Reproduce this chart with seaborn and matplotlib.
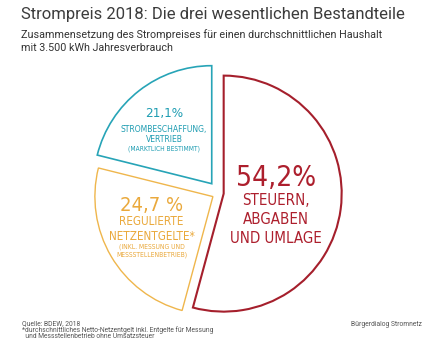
import matplotlib
matplotlib.use("Agg")
import matplotlib.pyplot as plt
from matplotlib import font_manager
import seaborn as sns

# Electricity price 2018: share of the three main components (percent)
shares = [54.2, 24.7, 21.1]
share_labels = ["54,2%", "24,7 %", "21,1%"]
component_lines = [
    ["STEUERN,", "ABGABEN", "UND UMLAGE"],
    ["REGULIERTE", "NETZENTGELTE*"],
    ["STROMBESCHAFFUNG,", "VERTRIEB"],
]
component_notes = [
    [],
    ["(INKL. MESSUNG UND", "MESSSTELLENBETRIEB)"],
    ["(MARKTLICH BESTIMMT)"],
]
edge_colors = ["#a51f2c", "#efb64c", "#27a4b7"]
text_colors = ["#ad1f2d", "#eaa93c", "#1f9db2"]

title = "Strompreis 2018: Die drei wesentlichen Bestandteile"
subtitle = ["Zusammensetzung des Strompreises für einen durchschnittlichen Haushalt",
            "mit 3.500 kWh Jahresverbrauch"]
footnotes = ["Quelle: BDEW, 2018",
             "*durchschnittliches Netto-Netzentgelt inkl. Entgelte für Messung",
             "  und Messstellenbetrieb ohne Umsatzsteuer"]
credit = "Bürgerdialog Stromnetz"

sns.set_theme(style="white")
fonts = font_manager.fontManager.ttflist
names = {f.name for f in fonts}
label_font = dict(family="DejaVu Sans")
if "Liberation Sans Narrow" in names:
    label_font = dict(family="Liberation Sans Narrow")
elif any(f.name == "DejaVu Sans" and f.stretch == "condensed" for f in fonts):
    label_font = dict(family="DejaVu Sans", fontstretch="condensed")
plt.rcParams["font.family"] = ["Roboto", "DejaVu Sans"]

W, H = 439, 340
fig = plt.figure(figsize=(W / 100, H / 100), dpi=100)
fig.patch.set_facecolor("white")
ax = fig.add_axes([0, 0, 1, 1])

# pie in pixel-like units, y pointing up
R = 118
center = (219, H - 193)
explode = [0.04 * R, 0.06 * R, 0.10 * R]
wedges, _ = ax.pie(
    shares, radius=R, center=center, explode=explode,
    startangle=90, counterclock=False,
    colors=["white"] * 3,
    wedgeprops=dict(linewidth=1.2, joinstyle="miter"),
)
for w, ec, lw in zip(wedges, edge_colors, [1.5, 1.0, 1.2]):
    w.set_edgecolor(ec)
    w.set_linewidth(lw)

ax.set_xlim(0, W)
ax.set_ylim(0, H)
ax.set_aspect("equal")
ax.axis("off")

fig.canvas.draw()
renderer = fig.canvas.get_renderer()


def Y(y):
    return H - y


def fitted(x, y, s, width, size=10, **kw):
    t = ax.text(x, Y(y), s, fontsize=size, va="baseline", **kw)
    w = t.get_window_extent(renderer).width
    t.set_fontsize(size * width / w)
    return t


# title block
fitted(21, 18.5, title, 384, color="#3c3c3c", ha="left")
sub = fitted(21, 37.5, subtitle[0], 359, color="#333333", ha="left")
ax.text(21, Y(51), subtitle[1], fontsize=sub.get_fontsize(), va="baseline",
        ha="left", color="#333333")

# segment labels
layout = [
    dict(cx=276, num=(186, 80), lines=[205, 224, 243], fit=(2, 92), notes=[], nfit=None),
    dict(cx=151.5, num=(211, 63), lines=[225, 239.5], fit=(1, 86), notes=[248, 256], nfit=(1, 72)),
    dict(cx=164, num=(117, 38), lines=[132, 142.5], fit=(0, 88), notes=[151], nfit=(0, 72)),
]
for i, lay in enumerate(layout):
    col = text_colors[i]
    fitted(lay["cx"], lay["num"][0], share_labels[i], lay["num"][1],
           color=col, ha="center", **label_font)
    k, wdt = lay["fit"]
    ref = fitted(lay["cx"], lay["lines"][k], component_lines[i][k], wdt,
                 color=col, ha="center", **label_font)
    for j, yb in enumerate(lay["lines"]):
        if j != k:
            ax.text(lay["cx"], Y(yb), component_lines[i][j], fontsize=ref.get_fontsize(),
                    va="baseline", ha="center", color=col, **label_font)
    if lay["nfit"]:
        k, wdt = lay["nfit"]
        nref = fitted(lay["cx"], lay["notes"][k], component_notes[i][k], wdt,
                      color=col, ha="center", **label_font)
        for j, yb in enumerate(lay["notes"]):
            if j != k:
                ax.text(lay["cx"], Y(yb), component_notes[i][j], fontsize=nref.get_fontsize(),
                        va="baseline", ha="center", color=col, **label_font)

# footer
fn = fitted(22, 331.8, footnotes[1], 194, color="#555555", ha="left")
for yb, s in zip([325.3, 338.0], [footnotes[0], footnotes[2]]):
    ax.text(22, Y(yb), s, fontsize=fn.get_fontsize(), va="baseline", ha="left", color="#555555")
ax.text(422, Y(326.5), credit, fontsize=fn.get_fontsize(), va="baseline", ha="right", color="#555555")

fig.savefig("out.png", dpi=100, facecolor="white")
